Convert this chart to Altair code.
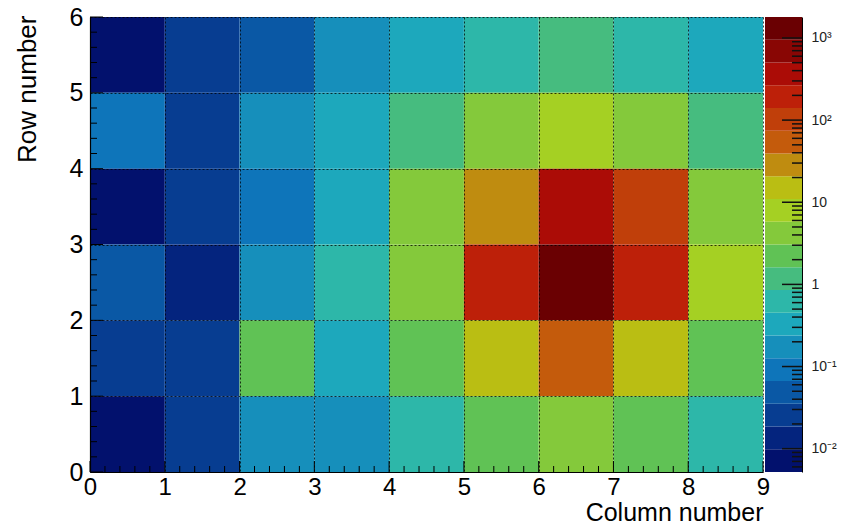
import math
import altair as alt
import pandas as pd

# ---------------- data ----------------
columns = [0, 1, 2, 3, 4, 5, 6, 7, 8]
row_index = [5, 4, 3, 2, 1, 0]
row5 = [0.0061, 0.025, 0.045, 0.17, 0.33, 0.62, 1.2, 0.60, 0.31]
row4 = [0.088, 0.027, 0.18, 0.34, 1.1, 4.4, 8.3, 4.1, 1.25]
row3 = [0.0068, 0.029, 0.095, 0.35, 4.0, 28, 360, 105, 3.9]
row2 = [0.052, 0.014, 0.19, 0.64, 4.3, 190, 1800, 200, 7.8]
row1 = [0.024, 0.026, 2.1, 0.32, 2.3, 15, 52, 16, 2.2]
row0 = [0.0052, 0.028, 0.16, 0.175, 0.58, 2.4, 4.2, 2.2, 0.66]
x_tick_labels = [0, 1, 2, 3, 4, 5, 6, 7, 8, 9]
y_tick_labels = [0, 1, 2, 3, 4, 5, 6]
cbar_label_values = [0.01, 0.1, 1, 10, 100, 1000]
cbar_label_text = ["10⁻²", "10⁻¹", "1", "10", "10²", "10³"]

# ---------------- ROOT kRainBow palette, 20 contour levels ----------------
stops = [0.0, 0.125, 0.25, 0.375, 0.5, 0.625, 0.75, 0.875, 1.0]
reds = [0, 5, 15, 35, 102, 196, 208, 199, 110]
greens = [0, 48, 124, 192, 206, 226, 97, 16, 0]
blues = [99, 142, 198, 201, 90, 22, 13, 8, 2]
SHADE = 0.94  # the photographed reference is a little darker
NCOL = 255
NCONT = 20
palette = []
for g in range(1, len(stops)):
    n = int(NCOL * stops[g]) - int(NCOL * stops[g - 1])
    for c in range(n):
        f = c / n
        r = reds[g - 1] + f * (reds[g] - reds[g - 1])
        gg = greens[g - 1] + f * (greens[g] - greens[g - 1])
        b = blues[g - 1] + f * (blues[g] - blues[g - 1])
        palette.append("#%02x%02x%02x" % (round(r * SHADE), round(gg * SHADE), round(b * SHADE)))
band_colors = [palette[int((i + 0.99) * NCOL / NCONT)] for i in range(NCONT)]

rows_values = [row5, row4, row3, row2, row1, row0]
records = []
for r, vals in zip(row_index, rows_values):
    for c, v in zip(columns, vals):
        records.append({"col": c, "col_end": c + 1, "row": r, "row_end": r + 1,
                        "value": v, "logv": math.log10(v)})
df = pd.DataFrame(records)
zmin = min(min(v) for v in rows_values)
zmax = max(max(v) for v in rows_values)
lmin, lmax = math.log10(zmin), math.log10(zmax)

FONT = "Liberation Sans"
W, H = 673, 455
CBW = 37

# ---------------- heatmap ----------------
xscale = alt.Scale(domain=[0, 9], nice=False, zero=False)
yscale = alt.Scale(domain=[0, 6], nice=False, zero=False)

x_axis = alt.Axis(values=x_tick_labels, format="d", labelFontSize=24, labelFont=FONT,
                  labelColor="#000", labelPadding=3, ticks=False, tickSize=0,
                  domain=True, domainColor="#000", domainWidth=1.2,
                  grid=True, gridColor="#000", gridDash=[2, 2], gridOpacity=0.75, gridWidth=1,
                  title="Column number", titleFont=FONT, titleFontSize=25,
                  titleFontWeight="normal", titleColor="#000",
                  titleX=W, titleY=48, titleAlign="right", titleBaseline="alphabetic",
                  labelFlush=False, labelOverlap=False, zindex=1)
y_axis = alt.Axis(values=y_tick_labels, format="d", labelFontSize=25, labelFont=FONT,
                  labelColor="#000", labelPadding=7, ticks=False, tickSize=0,
                  domain=True, domainColor="#000", domainWidth=1.2,
                  grid=True, gridColor="#000", gridDash=[2, 2], gridOpacity=0.75, gridWidth=1,
                  title="Row number", titleFont=FONT, titleFontSize=26,
                  titleFontWeight="normal", titleColor="#000", titleAngle=-90,
                  titleX=-76, titleY=-2, titleAlign="right", titleBaseline="top",
                  labelFlush=False, labelOverlap=False, zindex=1)

cells = alt.Chart(df).mark_rect(stroke=None).encode(
    x=alt.X("col:Q", scale=xscale, axis=x_axis),
    x2="col_end:Q",
    y=alt.Y("row:Q", scale=yscale, axis=y_axis),
    y2="row_end:Q",
    color=alt.Color("logv:Q", scale=alt.Scale(type="quantize", domain=[lmin, lmax],
                                              range=band_colors, nice=False, zero=False),
                    legend=None),
)

x_major = pd.DataFrame({"col": x_tick_labels})
x_minor = pd.DataFrame({"col": [i / 5 for i in range(46) if i % 5]})
y_major = pd.DataFrame({"row": y_tick_labels})
y_minor = pd.DataFrame({"row": [i / 5 for i in range(31) if i % 5]})

tick_x_major = alt.Chart(x_major).mark_tick(orient="vertical", size=11, thickness=1,
                                            color="#000", opacity=1).encode(
    x=alt.X("col:Q", scale=xscale, axis=x_axis), y=alt.value(H - 5.5))
tick_x_minor = alt.Chart(x_minor).mark_tick(orient="vertical", size=6, thickness=1,
                                            color="#000", opacity=1).encode(
    x=alt.X("col:Q", scale=xscale, axis=x_axis), y=alt.value(H - 3))
tick_y_major = alt.Chart(y_major).mark_tick(orient="horizontal", size=13, thickness=1,
                                            color="#000", opacity=1).encode(
    y=alt.Y("row:Q", scale=yscale, axis=y_axis), x=alt.value(6.5))
tick_y_minor = alt.Chart(y_minor).mark_tick(orient="horizontal", size=7, thickness=1,
                                            color="#000", opacity=1).encode(
    y=alt.Y("row:Q", scale=yscale, axis=y_axis), x=alt.value(3.5))

heat = alt.layer(cells, tick_x_major, tick_x_minor, tick_y_major, tick_y_minor).properties(
    width=W, height=H)

# ---------------- colour bar ----------------
step = (lmax - lmin) / NCONT
bands = pd.DataFrame({
    "lo": [10 ** (lmin + i * step) for i in range(NCONT)],
    "hi": [10 ** (lmin + (i + 1) * step) for i in range(NCONT)],
    "color": band_colors,
})
cscale = alt.Scale(type="log", domain=[zmin, zmax], nice=False)
label_expr = " : ".join(
    f"datum.value == {v} ? '{t}'" for v, t in zip(cbar_label_values, cbar_label_text)) + " : ''"
c_axis = alt.Axis(orient="right", values=cbar_label_values, labelExpr=label_expr,
                  labelFont=FONT, labelFontSize=14, labelColor="#222", labelPadding=9,
                  ticks=False, tickSize=0, domain=True, domainColor="#000", domainWidth=1,
                  grid=False, title=None, labelFlush=False, labelOverlap=False)

cb_rects = alt.Chart(bands).mark_rect(stroke=None).encode(
    y=alt.Y("lo:Q", scale=cscale, axis=c_axis),
    y2="hi:Q",
    x=alt.value(0), x2=alt.value(CBW),
    color=alt.Color("color:N", scale=None),
)
major_vals = [v for v in cbar_label_values if zmin <= v <= zmax]
minor_vals = [k * 10.0 ** e for e in range(-3, 4) for k in range(2, 10)
              if zmin <= k * 10.0 ** e <= zmax]
cb_major = alt.Chart(pd.DataFrame({"lo": major_vals})).mark_tick(
    orient="horizontal", size=20, thickness=1.5, color="#111", opacity=1).encode(
    y=alt.Y("lo:Q", scale=cscale, axis=c_axis), x=alt.value(CBW - 10))
cb_minor = alt.Chart(pd.DataFrame({"lo": minor_vals})).mark_tick(
    orient="horizontal", size=10, thickness=1.5, color="#111", opacity=1).encode(
    y=alt.Y("lo:Q", scale=cscale, axis=c_axis), x=alt.value(CBW - 5))
cbar = alt.layer(cb_rects, cb_major, cb_minor).properties(width=CBW, height=H)

chart = alt.hconcat(heat, cbar, spacing=2, bounds="flush").properties(
    padding={"left": 13, "top": 5, "right": 5, "bottom": 3},
    background="white",
).configure_view(stroke=None)

chart.save("out.html", embed_options={"renderer": "svg", "actions": False})
